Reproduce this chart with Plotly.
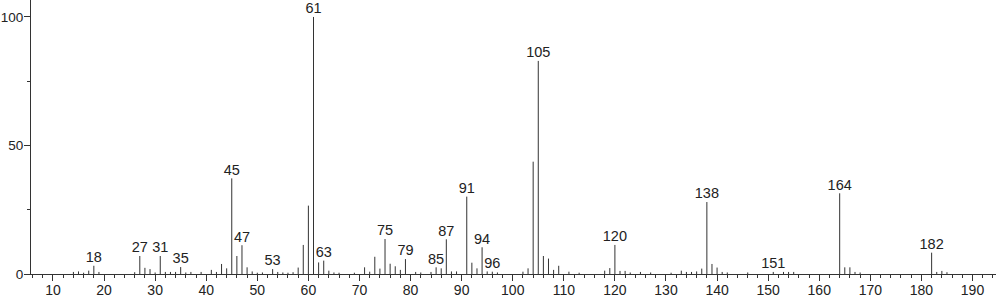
import plotly.graph_objects as go

# m/z values and relative intensities (%)
mz = [14, 15, 16, 17, 18, 19, 26, 27, 28, 29, 30, 31, 32, 33, 34, 35, 36, 37, 39,
      41, 42, 43, 44, 45, 46, 47, 48, 49, 50, 51, 53, 54, 55, 56, 57, 58, 59, 60,
      61, 62, 63, 64, 65, 66, 69, 71, 72, 73, 74, 75, 76, 77, 78, 79, 81, 82, 84,
      85, 86, 87, 88, 89, 91, 92, 93, 94, 95, 96, 97, 102, 103, 104, 105, 106, 107,
      108, 109, 111, 113, 118, 119, 120, 121, 122, 123, 125, 127, 131, 133, 134,
      135, 136, 137, 138, 139, 140, 141, 142, 146, 151, 153, 154, 155, 164, 165,
      166, 167, 168, 182, 183, 184, 185]
intensity = [0.8, 1.0, 0.5, 1.3, 3.2, 0.8, 0.7, 7.0, 2.4, 1.9, 0.6, 7.0, 0.8, 0.8,
             0.8, 2.7, 0.6, 0.8, 0.8, 1.6, 0.8, 3.9, 2.2, 37.2, 7.0, 11.2, 2.6, 1.0,
             0.5, 0.6, 1.9, 0.8, 0.6, 0.5, 0.7, 2.5, 11.3, 26.6, 100, 4.5, 5.2, 1.3,
             0.6, 0.5, 0.5, 2.6, 0.9, 6.7, 2.1, 13.6, 4.0, 3.0, 1.6, 5.8, 0.8, 0.6,
             0.8, 2.6, 2.2, 13.5, 1.0, 1.0, 30.1, 4.4, 2.2, 10.4, 1.0, 0.9, 0.6, 0.9,
             2.2, 43.7, 82.9, 7.0, 6.0, 1.6, 3.2, 0.9, 0.5, 1.3, 2.3, 11.3, 1.2, 1.2,
             0.6, 0.8, 0.6, 0.5, 1.3, 0.8, 0.8, 1.0, 2.1, 28.0, 3.9, 2.5, 0.8, 0.6,
             0.6, 0.8, 0.8, 0.8, 0.8, 31.4, 2.6, 2.6, 0.8, 0.6, 8.3, 0.8, 1.2, 0.7]

labeled_mz = [18, 27, 31, 35, 45, 47, 53, 61, 63, 75, 79, 85, 87, 91, 94, 96, 105,
              120, 138, 151, 164, 182]

x_ticks = list(range(10, 200, 10))
y_ticks = [0, 50, 100]

lookup = dict(zip(mz, intensity))

xs, ys = [], []
for m, v in zip(mz, intensity):
    xs += [m, m, None]
    ys += [0, v, None]

fig = go.Figure()
fig.add_trace(go.Scatter(x=xs, y=ys, mode="lines",
                         line=dict(color="#333333", width=1),
                         hoverinfo="skip", showlegend=False))
fig.add_trace(go.Scatter(x=labeled_mz, y=[lookup[m] for m in labeled_mz],
                         mode="text", text=[str(m) for m in labeled_mz],
                         textposition="top center",
                         textfont=dict(family="Liberation Sans, Arial, sans-serif",
                                       size=14.5, color="#222222"),
                         showlegend=False, hoverinfo="skip", cliponaxis=False))

xfont = dict(family="Liberation Sans, Arial, sans-serif", size=14, color="#222222")
yfont = dict(family="Liberation Sans, Arial, sans-serif", size=13.5, color="#222222")
fig.update_layout(
    width=996, height=299,
    margin=dict(l=31, r=0, t=0, b=25),
    paper_bgcolor="white", plot_bgcolor="white",
    xaxis=dict(range=[5.7, 194.6], tickvals=x_ticks, ticktext=[str(t) for t in x_ticks],
               ticks="outside", ticklen=6, tickcolor="#333333", tickwidth=1,
               ticklabelstandoff=-3,
               showline=True, linecolor="#333333", linewidth=1, automargin=False,
               showgrid=False, zeroline=False, tickfont=xfont,
               minor=dict(dtick=2, tick0=0, ticks="outside", ticklen=3,
                          tickcolor="#333333", showgrid=False)),
    yaxis=dict(range=[0, 106.6], tickvals=y_ticks, ticktext=[str(t) for t in y_ticks],
               ticks="outside", ticklen=6, tickcolor="#333333", tickwidth=1,
               ticklabelstandoff=-2,
               showline=True, linecolor="#333333", linewidth=1, automargin=False,
               showgrid=False, zeroline=False, tickfont=yfont,
               minor=dict(tickvals=[25, 75], ticks="outside", ticklen=3,
                          tickcolor="#333333", showgrid=False)),
)

fig.write_html("out.html")
